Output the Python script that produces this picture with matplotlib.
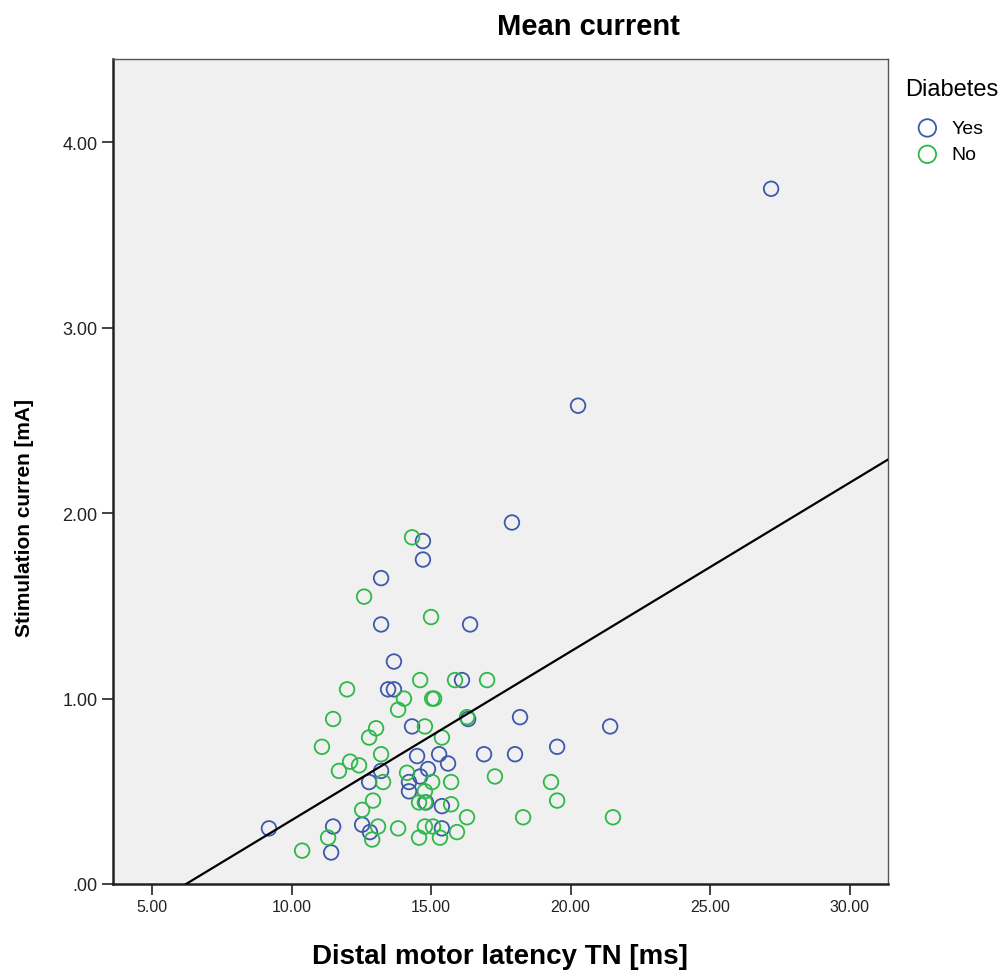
import numpy as np
import matplotlib
matplotlib.use("Agg")
from matplotlib import pyplot as plt

plt.rcParams['font.family'] = ['Liberation Sans', 'DejaVu Sans']

# Diabetes = Yes
yes_x = [27.19, 20.27, 17.90, 14.71, 14.71, 13.21, 13.21, 16.40, 13.67, 13.46,
         13.67, 16.11, 16.33, 18.19, 21.42, 14.32, 19.52, 14.50, 15.29, 16.90,
         18.01, 15.61, 14.89, 14.61, 13.21, 12.78, 14.21, 14.21, 14.82, 15.39,
         15.39, 12.53, 12.81, 11.49, 11.42, 9.19]
yes_y = [3.75, 2.58, 1.95, 1.85, 1.75, 1.65, 1.40, 1.40, 1.20, 1.05,
         1.05, 1.10, 0.89, 0.90, 0.85, 0.85, 0.74, 0.69, 0.70, 0.70,
         0.70, 0.65, 0.62, 0.58, 0.61, 0.55, 0.55, 0.50, 0.44, 0.42,
         0.30, 0.32, 0.28, 0.31, 0.17, 0.30]

# Diabetes = No
no_x = [14.32, 12.60, 15.00, 11.99, 14.61, 15.86, 17.01, 14.03, 13.82, 15.04,
        15.11, 11.49, 16.29, 13.03, 12.78, 14.78, 15.39, 11.09, 12.10, 12.42,
        11.70, 13.21, 13.28, 14.14, 15.04, 15.72, 17.29, 19.30, 12.92, 12.53,
        14.78, 14.57, 14.78, 15.72, 19.52, 16.29, 18.30, 21.52, 13.10, 12.89,
        13.82, 14.57, 14.78, 15.07, 15.32, 15.93, 11.31, 10.38]
no_y = [1.87, 1.55, 1.44, 1.05, 1.10, 1.10, 1.10, 1.00, 0.94, 1.00,
        1.00, 0.89, 0.90, 0.84, 0.79, 0.85, 0.79, 0.74, 0.66, 0.64,
        0.61, 0.70, 0.55, 0.60, 0.55, 0.55, 0.58, 0.55, 0.45, 0.40,
        0.50, 0.44, 0.44, 0.43, 0.45, 0.36, 0.36, 0.36, 0.31, 0.24,
        0.30, 0.25, 0.31, 0.31, 0.25, 0.28, 0.25, 0.18]

# fit line at total
fit_intercept = -0.566
fit_slope = 0.091

x_ticks = [5, 10, 15, 20, 25, 30]
y_ticks = [0, 1, 2, 3, 4]

fig = plt.figure(figsize=(10.06, 9.79), dpi=100)
ax = fig.add_axes([113 / 1006, 1 - 885 / 979, 775 / 1006, 825 / 979])
ax.set_facecolor('#F0F0F0')

ax.scatter(yes_x, yes_y, s=110, facecolors='none', edgecolors='#3E58AC',
           linewidths=1.3, label='Yes', zorder=3)
ax.scatter(no_x, no_y, s=110, facecolors='none', edgecolors='#2EB848',
           linewidths=1.3, label='No', zorder=3)

xl = np.array([3.6, 31.38])
ax.plot(xl, fit_intercept + fit_slope * xl, color='black', lw=1.6, zorder=4)

ax.set_xlim(3.6, 31.38)
ax.set_ylim(0, 4.45)
ax.set_xticks(x_ticks)
ax.set_yticks(y_ticks)
ax.set_xticklabels(['%.2f' % v for v in x_ticks])
ax.set_yticklabels([('%.2f' % v).lstrip('0') if v == 0 else '%.2f' % v for v in y_ticks])
ax.tick_params(direction='out', length=8, width=1.2, colors='#222222', pad=3)
ax.tick_params(axis='x', labelsize=11.5)
ax.tick_params(axis='y', labelsize=13)

for side in ['left', 'bottom']:
    ax.spines[side].set_linewidth(1.8)
    ax.spines[side].set_color('#222222')
for side in ['top', 'right']:
    ax.spines[side].set_linewidth(1.0)
    ax.spines[side].set_color('#555555')

fig.text(588 / 1006, 1 - 27 / 979, 'Mean current', ha='center', va='center',
         fontsize=21, fontweight='bold')
fig.text(500 / 1006, 1 - 957 / 979, 'Distal motor latency TN [ms]', ha='center',
         va='center', fontsize=20, fontweight='bold')
fig.text(25 / 1006, 1 - 518 / 979, 'Stimulation curren [mA]', ha='center',
         va='center', rotation=90, fontsize=15, fontweight='bold')

leg = ax.legend(title='Diabetes', loc='upper left',
                bbox_to_anchor=(905 / 1006, 1 - 79 / 979),
                bbox_transform=fig.transFigure, frameon=False,
                fontsize=14, title_fontsize=17, handletextpad=0.1,
                borderaxespad=0, borderpad=0, labelspacing=0.45,
                handlelength=2.3, markerscale=1.2)
leg._legend_box.align = 'left'
leg._legend_box.sep = 14

plt.savefig('out.png', dpi=100)
